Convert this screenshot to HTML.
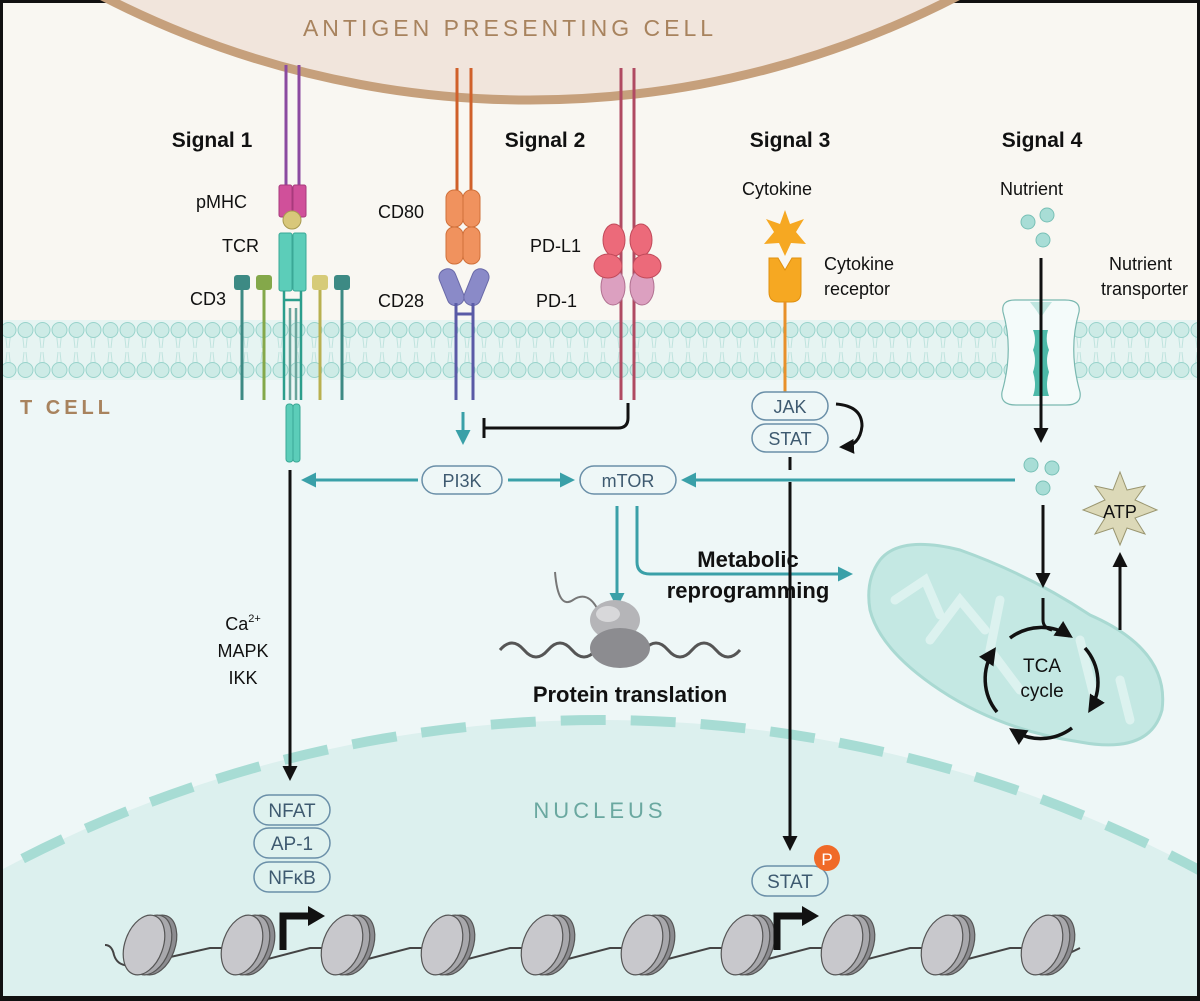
<!DOCTYPE html>
<html><head><meta charset="utf-8"><style>
html,body{margin:0;padding:0;background:#fff;width:1200px;height:1001px;overflow:hidden}
svg{display:block}
text{font-family:"Liberation Sans",Arial,sans-serif}
</style></head><body>
<svg width="1200" height="1001" viewBox="0 0 1200 1001" xmlns="http://www.w3.org/2000/svg">
<defs>
<marker id="ab" viewBox="0 0 10 10" refX="8" refY="5" markerWidth="5" markerHeight="5" orient="auto"><path d="M0,0 L10,5 L0,10 z" fill="#111"/></marker>
<marker id="at" viewBox="0 0 10 10" refX="8" refY="5" markerWidth="5" markerHeight="5" orient="auto"><path d="M0,0 L10,5 L0,10 z" fill="#3aa0a8"/></marker>
<pattern id="heads" width="17" height="60" patternUnits="userSpaceOnUse" x="0" y="320">
<line x1="5" y1="10" x2="7" y2="28" stroke="#bfe3de" stroke-width="1"/><line x1="11" y1="10" x2="9" y2="28" stroke="#bfe3de" stroke-width="1"/>
<line x1="5" y1="50" x2="7" y2="32" stroke="#bfe3de" stroke-width="1"/><line x1="11" y1="50" x2="9" y2="32" stroke="#bfe3de" stroke-width="1"/>
<circle cx="8.5" cy="10" r="7.5" fill="#cdebe6" stroke="#98d3cb" stroke-width="1"/>
<circle cx="8.5" cy="50" r="7.5" fill="#cdebe6" stroke="#98d3cb" stroke-width="1"/>
</pattern>
<g id="nucl">
<ellipse cx="9" cy="0" rx="19" ry="31" transform="rotate(20 9 0)" fill="#8c8c90" stroke="#555" stroke-width="1.2"/>
<ellipse cx="4" cy="0" rx="19" ry="31" transform="rotate(20 4 0)" fill="#a8a8ac" stroke="#555" stroke-width="1.2"/>
<ellipse cx="-3" cy="0" rx="19" ry="31" transform="rotate(20 -3 0)" fill="#c8c8cc" stroke="#555" stroke-width="1.2"/>
</g>
</defs>
<rect x="0" y="0" width="1200" height="1001" fill="#111"/>
<rect x="3" y="3" width="1194" height="993" fill="#eef7f7"/>
<rect x="3" y="3" width="1194" height="322" fill="#f9f7f2"/>
<!-- APC -->
<circle cx="530" cy="-832" r="932" fill="#f1e5dc" stroke="#c6a07c" stroke-width="9"/>
<text x="510" y="36" text-anchor="middle" font-size="23" fill="#a8835e" letter-spacing="4">ANTIGEN PRESENTING CELL</text>
<!-- membrane -->
<rect x="3" y="320" width="1194" height="60" fill="#e6f4f2"/>
<rect x="3" y="320" width="1194" height="60" fill="url(#heads)"/>
<!-- nucleus -->
<circle cx="600" cy="1991" r="1271" fill="#dcf0ee"/>
<circle cx="600" cy="1991" r="1271" fill="none" stroke="#a7dcd4" stroke-width="10" stroke-dasharray="45 25"/>
<rect x="0" y="996" width="1200" height="5" fill="#111"/>
<rect x="0" y="0" width="3" height="1001" fill="#111"/><rect x="1197" y="0" width="3" height="1001" fill="#111"/>
<text x="20" y="414" font-size="20" fill="#a8835e" letter-spacing="4" font-weight="bold">T CELL</text>
<text x="600" y="818" text-anchor="middle" font-size="22" fill="#6aa8a0" letter-spacing="4">NUCLEUS</text>

<g font-size="21" font-weight="bold" fill="#111" text-anchor="middle">
<text x="212" y="147">Signal 1</text><text x="545" y="147">Signal 2</text><text x="790" y="147">Signal 3</text><text x="1042" y="147">Signal 4</text>
</g>
<g font-size="18" fill="#111">
<text x="196" y="208">pMHC</text><text x="222" y="252">TCR</text><text x="190" y="305">CD3</text>
<text x="378" y="218">CD80</text><text x="378" y="307">CD28</text>
<text x="530" y="252">PD-L1</text><text x="536" y="307">PD-1</text>
<text x="742" y="195">Cytokine</text><text x="824" y="270">Cytokine</text><text x="824" y="295">receptor</text>
<text x="1000" y="195">Nutrient</text>
<text x="1172" y="270" text-anchor="end">Nutrient</text><text x="1188" y="295" text-anchor="end">transporter</text>
</g>

<!-- Signal 1: TCR -->
<line x1="286" y1="65" x2="286" y2="185" stroke="#8b4aa0" stroke-width="3"/>
<line x1="299" y1="65" x2="299" y2="185" stroke="#8b4aa0" stroke-width="3"/>
<rect x="279" y="185" width="13" height="32" rx="2" fill="#d0509a" stroke="#a83a7c"/>
<rect x="293" y="185" width="13" height="32" rx="2" fill="#d0509a" stroke="#a83a7c"/>
<circle cx="292" cy="220" r="9" fill="#d8c77a" stroke="#a89a50"/>
<rect x="279" y="233" width="13" height="58" rx="2" fill="#5ccdb9" stroke="#3aa896"/>
<rect x="293" y="233" width="13" height="58" rx="2" fill="#5ccdb9" stroke="#3aa896"/>
<line x1="284" y1="291" x2="284" y2="400" stroke="#2c9e8c" stroke-width="2.5"/>
<line x1="301" y1="291" x2="301" y2="400" stroke="#2c9e8c" stroke-width="2.5"/>
<line x1="284" y1="300" x2="301" y2="300" stroke="#2c9e8c" stroke-width="2.5"/>
<line x1="290" y1="308" x2="290" y2="400" stroke="#6aa59c" stroke-width="2.5"/>
<line x1="296" y1="308" x2="296" y2="400" stroke="#6aa59c" stroke-width="2.5"/>
<rect x="286" y="404" width="7" height="58" rx="3" fill="#5ccdb9" stroke="#3aa896"/>
<rect x="293" y="404" width="7" height="58" rx="3" fill="#5ccdb9" stroke="#3aa896"/>
<line x1="242" y1="285" x2="242" y2="400" stroke="#3d8a84" stroke-width="3"/>
<rect x="234" y="275" width="16" height="15" rx="3" fill="#3d8a84"/>
<line x1="264" y1="285" x2="264" y2="400" stroke="#84a84a" stroke-width="3"/>
<rect x="256" y="275" width="16" height="15" rx="3" fill="#84a84a"/>
<line x1="320" y1="285" x2="320" y2="400" stroke="#b9b050" stroke-width="3"/>
<rect x="312" y="275" width="16" height="15" rx="3" fill="#d6cb78"/>
<line x1="342" y1="285" x2="342" y2="400" stroke="#3d8a84" stroke-width="3"/>
<rect x="334" y="275" width="16" height="15" rx="3" fill="#3d8a84"/>

<!-- Signal 2 CD80/CD28 -->
<line x1="457" y1="68" x2="457" y2="192" stroke="#d0602a" stroke-width="3"/>
<line x1="471" y1="68" x2="471" y2="192" stroke="#d0602a" stroke-width="3"/>
<g fill="#f0925e" stroke="#d0703a">
<rect x="446" y="190" width="17" height="37" rx="8"/><rect x="463" y="190" width="17" height="37" rx="8"/>
<rect x="446" y="227" width="17" height="37" rx="8"/><rect x="463" y="227" width="17" height="37" rx="8"/>
</g>
<g fill="#8a8ac8" stroke="#6a6aa8">
<rect x="443" y="268" width="17" height="38" rx="8" transform="rotate(-22 452 287)"/>
<rect x="468" y="268" width="17" height="38" rx="8" transform="rotate(22 476 287)"/>
</g>
<line x1="456" y1="303" x2="456" y2="400" stroke="#5a5aa6" stroke-width="3"/>
<line x1="473" y1="303" x2="473" y2="400" stroke="#5a5aa6" stroke-width="3"/>
<line x1="456" y1="314" x2="473" y2="314" stroke="#5a5aa6" stroke-width="3"/>
<!-- PD-L1 / PD-1 -->
<line x1="621" y1="68" x2="621" y2="400" stroke="#b04a62" stroke-width="3"/>
<line x1="634" y1="68" x2="634" y2="400" stroke="#b04a62" stroke-width="3"/>
<g fill="#dca0c0" stroke="#b07090">
<ellipse cx="613" cy="287" rx="12" ry="18"/><ellipse cx="642" cy="287" rx="12" ry="18"/>
</g>
<g fill="#ec6a7a" stroke="#c04a5a">
<ellipse cx="614" cy="240" rx="11" ry="16"/><ellipse cx="608" cy="266" rx="14" ry="12"/>
<ellipse cx="641" cy="240" rx="11" ry="16"/><ellipse cx="647" cy="266" rx="14" ry="12"/>
</g>
<line x1="463" y1="412" x2="463" y2="442" stroke="#3aa0a8" stroke-width="3" marker-end="url(#at)"/>
<path d="M628,403 L628,418 Q628,428 618,428 L485,428" fill="none" stroke="#111" stroke-width="3"/>
<line x1="484" y1="418" x2="484" y2="438" stroke="#111" stroke-width="3"/>

<!-- PI3K / mTOR -->
<g fill="#eef7f7" stroke="#6a8fa8" stroke-width="1.5">
<rect x="422" y="466" width="80" height="28" rx="14"/>
<rect x="580" y="466" width="96" height="28" rx="14"/>
</g>
<g font-size="18" fill="#3e5a70" text-anchor="middle">
<text x="462" y="487">PI3K</text><text x="628" y="487">mTOR</text>
</g>
<line x1="418" y1="480" x2="304" y2="480" stroke="#3aa0a8" stroke-width="3" marker-end="url(#at)"/>
<line x1="508" y1="480" x2="572" y2="480" stroke="#3aa0a8" stroke-width="3" marker-end="url(#at)"/>
<line x1="1015" y1="480" x2="684" y2="480" stroke="#3aa0a8" stroke-width="3" marker-end="url(#at)"/>
<line x1="617" y1="506" x2="617" y2="605" stroke="#3aa0a8" stroke-width="3" marker-end="url(#at)"/>
<path d="M637,506 L637,562 Q637,574 650,574 L850,574" fill="none" stroke="#3aa0a8" stroke-width="3" marker-end="url(#at)"/>
<g font-size="22" font-weight="bold" fill="#111" text-anchor="middle">
<text x="748" y="567">Metabolic</text><text x="748" y="598">reprogramming</text>
<text x="630" y="702">Protein translation</text>
</g>
<path d="M500,650 q12,-14 24,0 t24,0 t24,0 t24,0 t24,0 t24,0 t24,0 t24,0 t24,0 t24,0" fill="none" stroke="#555" stroke-width="3"/>
<path d="M598,610 q-10,-20 -25,-10 t-18,-28" fill="none" stroke="#777" stroke-width="2"/>
<ellipse cx="615" cy="620" rx="25" ry="20" fill="#b5b5b8"/>
<ellipse cx="620" cy="648" rx="30" ry="20" fill="#8c8c90"/>
<ellipse cx="608" cy="614" rx="12" ry="8" fill="#d8d8da"/>

<!-- Signal 1 cascade -->
<line x1="290" y1="470" x2="290" y2="778" stroke="#111" stroke-width="3" marker-end="url(#ab)"/>
<g font-size="18" fill="#111" text-anchor="middle">
<text x="243" y="630">Ca<tspan font-size="11" dy="-8">2+</tspan></text>
<text x="243" y="657">MAPK</text><text x="243" y="684">IKK</text>
</g>
<g fill="#dff2ef" stroke="#6a8fa8" stroke-width="1.5">
<rect x="254" y="795" width="76" height="30" rx="15"/>
<rect x="254" y="828" width="76" height="30" rx="15"/>
<rect x="254" y="862" width="76" height="30" rx="15"/>
</g>
<g font-size="19" fill="#3e5a70" text-anchor="middle">
<text x="292" y="817">NFAT</text><text x="292" y="850">AP-1</text><text x="292" y="884">NFκB</text>
</g>

<!-- Signal 3 -->
<polygon points="785,210 790,224 804,219 796,232 806,244 791,243 785,256 779,243 764,244 774,232 766,219 780,224" fill="#f6a822"/>
<path d="M769,258 L778,258 L785,270 L792,258 L801,258 L801,292 Q801,302 791,302 L779,302 Q769,302 769,292 Z" fill="#f6a822" stroke="#e09010"/>
<line x1="785" y1="302" x2="785" y2="392" stroke="#e8902a" stroke-width="3"/>
<g fill="#eef7f7" stroke="#6a8fa8" stroke-width="1.5">
<rect x="752" y="392" width="76" height="28" rx="14"/>
<rect x="752" y="424" width="76" height="28" rx="14"/>
</g>
<g font-size="18" fill="#3e5a70" text-anchor="middle"><text x="790" y="413">JAK</text><text x="790" y="445">STAT</text></g>
<path d="M836,404 Q862,406 862,426 Q860,446 842,447" fill="none" stroke="#111" stroke-width="3" marker-end="url(#ab)"/>
<line x1="790" y1="457" x2="790" y2="470" stroke="#111" stroke-width="3"/>
<line x1="790" y1="482" x2="790" y2="848" stroke="#111" stroke-width="3" marker-end="url(#ab)"/>
<rect x="752" y="866" width="76" height="30" rx="15" fill="#dff2ef" stroke="#6a8fa8" stroke-width="1.5"/>
<text x="790" y="888" font-size="19" fill="#3e5a70" text-anchor="middle">STAT</text>
<circle cx="827" cy="858" r="13" fill="#f06a28"/>
<text x="827" y="865" font-size="17" fill="#fff" text-anchor="middle">P</text>

<!-- Signal 4 -->
<g fill="#a8ddd6" stroke="#78c0b6">
<circle cx="1028" cy="222" r="7"/><circle cx="1047" cy="215" r="7"/><circle cx="1043" cy="240" r="7"/>
<circle cx="1031" cy="465" r="7"/><circle cx="1052" cy="468" r="7"/><circle cx="1043" cy="488" r="7"/>
</g>
<path d="M1003,312 Q1001,300 1015,300 L1065,300 Q1081,300 1079,312 Q1068,350 1080,392 Q1082,405 1066,405 L1016,405 Q1000,405 1002,392 Q1014,350 1003,312 Z" fill="#f4fbfa" stroke="#7ab8b0" stroke-width="1.2"/>
<path d="M1030,302 L1052,302 Q1044,312 1041,318 Q1038,312 1030,302 Z" fill="#bfe6e0"/>
<path d="M1033,330 L1048,330 Q1045,340 1049,350 Q1045,360 1049,372 Q1045,385 1049,396 L1033,396 Q1037,385 1033,372 Q1037,360 1033,350 Q1037,340 1033,330 Z" fill="#4cb9a8"/>
<line x1="1041" y1="300" x2="1041" y2="405" stroke="#7ab8b0" stroke-width="1.5"/>
<line x1="1041" y1="258" x2="1041" y2="440" stroke="#111" stroke-width="3" marker-end="url(#ab)"/>
<!-- mitochondrion -->
<path d="M880,560 Q900,535 960,550 Q1030,575 1090,615 Q1170,650 1162,710 Q1150,755 1080,742 Q1000,730 940,690 Q880,650 870,610 Q865,580 880,560 Z" fill="#c4e8e3" stroke="#a9d9d2" stroke-width="3"/>
<g stroke="#dcf2ef" stroke-width="9" fill="none" stroke-linecap="round">
<path d="M895,600 L925,580 L940,615"/><path d="M930,640 L960,600 L985,630"/><path d="M1000,600 L990,650 L1020,690"/><path d="M1080,640 L1095,700"/><path d="M1120,680 L1130,720"/>
</g>
<line x1="1043" y1="505" x2="1043" y2="585" stroke="#111" stroke-width="3" marker-end="url(#ab)"/>
<path d="M1043,598 L1043,620 Q1043,628 1052,630" fill="none" stroke="#111" stroke-width="3"/>
<g fill="none" stroke="#111" stroke-width="3.5" marker-end="url(#ab)">
<path d="M1010,638 A52,52 0 0 1 1070,636"/>
<path d="M1085,648 A52,52 0 0 1 1090,710"/>
<path d="M1072,728 A52,52 0 0 1 1012,730"/>
<path d="M997,712 A52,52 0 0 1 994,650"/>
</g>
<g font-size="19" fill="#111" text-anchor="middle"><text x="1042" y="672">TCA</text><text x="1042" y="697">cycle</text></g>
<polygon points="1120,472 1127,490 1145,486 1135,500 1157,510 1135,518 1145,534 1127,528 1120,545 1113,528 1095,534 1105,518 1083,510 1105,500 1095,486 1113,490" fill="#dcd9b8" stroke="#9a9670"/>
<text x="1120" y="518" font-size="18" fill="#111" text-anchor="middle">ATP</text>
<line x1="1120" y1="630" x2="1120" y2="555" stroke="#111" stroke-width="3" marker-end="url(#ab)"/>

<!-- chromatin -->
<path d="M105,945 Q112,945 114,955 Q118,968 135,965 L210,948 L225,948 Q230,968 245,965 L310,948 L325,948 Q330,968 345,965 L410,948 L425,948 Q430,968 445,965 L510,948 L525,948 Q530,968 545,965 L610,948 L625,948 Q630,968 645,965 L710,948 L725,948 Q730,968 745,965 L810,948 L825,948 Q830,968 845,965 L910,948 L925,948 Q930,968 945,965 L1010,948 L1025,948 Q1030,968 1045,965 L1080,948" fill="none" stroke="#444" stroke-width="2"/>
<use href="#nucl" x="147" y="945"/><use href="#nucl" x="245" y="945"/><use href="#nucl" x="345" y="945"/>
<use href="#nucl" x="445" y="945"/><use href="#nucl" x="545" y="945"/><use href="#nucl" x="645" y="945"/>
<use href="#nucl" x="745" y="945"/><use href="#nucl" x="845" y="945"/><use href="#nucl" x="945" y="945"/>
<use href="#nucl" x="1045" y="945"/>
<path d="M283,950 L283,916 L310,916" fill="none" stroke="#111" stroke-width="7"/>
<polygon points="308,906 325,916 308,926" fill="#111"/>
<path d="M777,950 L777,916 L804,916" fill="none" stroke="#111" stroke-width="7"/>
<polygon points="802,906 819,916 802,926" fill="#111"/>
</svg>
</body></html>
